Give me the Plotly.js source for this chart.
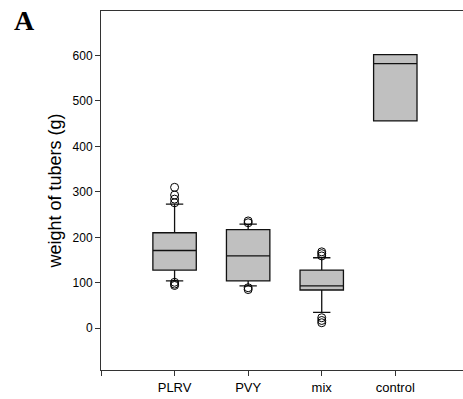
<!DOCTYPE html>
<html>
<head>
<meta charset="utf-8">
<script src="https://cdn.plot.ly/plotly-3.0.1.min.js"></script>
<style>html,body{margin:0;padding:0;background:#fff;}#chart{width:463px;height:399px;}</style>
</head>
<body>
<div id="chart"></div>
<script>
// Data
const categories = ['PLRV', 'PVY', 'mix', 'control'];
const q1Values = [128, 104, 84, 456];
const medianValues = [171, 159, 93, 582];
const q3Values = [210, 217, 128, 602];
const lowerFenceValues = [104, 93, 35, 456];
const upperFenceValues = [273, 229, 155, 602];
const outliersPLRV = [310, 293, 284, 276, 101, 97, 94];
const outliersPVY = [236, 232, 89, 85];
const outliersMix = [168, 164, 159, 23, 17, 12];
const outliersControl = [];
const yTickValues = [0, 100, 200, 300, 400, 500, 600];

const positions = categories.map((c, i) => i);
const outlierGroups = [outliersPLRV, outliersPVY, outliersMix, outliersControl];
const outX = [], outY = [];
outlierGroups.forEach((g, i) => g.forEach(v => { outX.push(positions[i]); outY.push(v); }));

const sans = 'Liberation Sans, Arial, sans-serif';

const traces = [
  {
    type: 'box',
    x: positions,
    q1: q1Values,
    median: medianValues,
    q3: q3Values,
    lowerfence: lowerFenceValues,
    upperfence: upperFenceValues,
    width: 0.59,
    whiskerwidth: 0.4,
    fillcolor: '#c0c0c0',
    line: {color: '#111111', width: 1.3},
    boxpoints: false,
    hoverinfo: 'skip',
    showlegend: false
  },
  {
    type: 'scatter',
    mode: 'markers',
    x: outX,
    y: outY,
    marker: {symbol: 'circle-open', size: 8, color: '#000000', line: {width: 1}},
    hoverinfo: 'skip',
    showlegend: false
  }
];

const layout = {
  width: 463,
  height: 399,
  margin: {l: 101, r: 0, t: 11, b: 29},
  paper_bgcolor: '#ffffff',
  plot_bgcolor: '#ffffff',
  font: {family: sans, color: '#000000'},
  showlegend: false,
  xaxis: {
    range: [-1, 3.92],
    tickvals: [-1].concat(positions),
    ticktext: [''].concat(categories),
    showgrid: false,
    zeroline: false,
    showline: true,
    linecolor: '#333333',
    linewidth: 1,
    mirror: true,
    ticks: 'outside',
    ticklen: 5,
    tickcolor: '#333333',
    tickfont: {size: 13, family: sans, color: '#000000'}
  },
  yaxis: {
    range: [-92, 698],
    tickvals: yTickValues,
    showgrid: false,
    zeroline: false,
    showline: true,
    linecolor: '#333333',
    linewidth: 1,
    ticks: 'outside',
    ticklen: 5,
    tickcolor: '#333333',
    tickfont: {size: 12, family: sans, color: '#000000'},
    title: {text: 'weight of tubers (g)', font: {size: 18, family: sans, color: '#000000'}, standoff: 6}
  },
  annotations: [
    {
      text: '<b>A</b>',
      xref: 'paper', yref: 'paper',
      x: 0, y: 1,
      xanchor: 'center', yanchor: 'middle',
      xshift: -77, yshift: -9,
      showarrow: false,
      font: {family: 'Liberation Serif, Times New Roman, serif', size: 28, color: '#000000'}
    }
  ]
};

Plotly.newPlot('chart', traces, layout, {displayModeBar: false, staticPlot: true});
</script>
</body>
</html>
